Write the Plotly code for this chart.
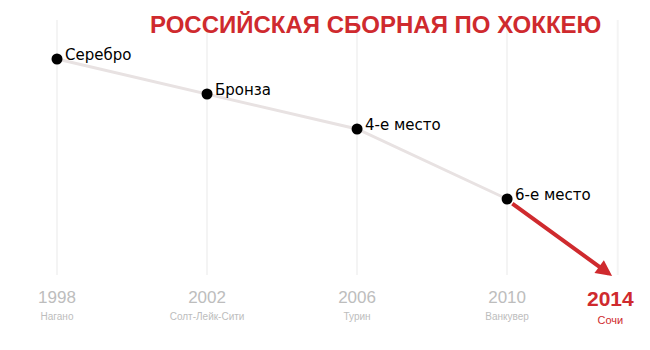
import plotly.graph_objects as go

years = [1998, 2002, 2006, 2010]
cities = ["Нагано", "Солт-Лейк-Сити", "Турин", "Ванкувер"]
places = [2, 3, 4, 6]
results = ["Серебро", "Бронза", "4-е место", "6-е место"]
next_year = "2014"
next_city = "Сочи"
title = "РОССИЙСКАЯ СБОРНАЯ ПО ХОККЕЮ"

NARROW = "Liberation Sans, Arial"
RED = "#cf2a2e"

fig = go.Figure()
fig.add_trace(go.Scatter(
    x=years, y=places, mode="lines+markers",
    line=dict(color="#e8e2e2", width=3),
    marker=dict(color="black", size=11),
    hoverinfo="skip", showlegend=False,
))

for yr, pl, txt in zip(years, places, results):
    fig.add_annotation(x=yr, y=pl, text=txt, showarrow=False,
                       xanchor="left", yanchor="middle", xshift=6, yshift=4,
                       font=dict(family="DejaVu Sans", size=15, color="black"))

ticktext = [f"<span style='font-size:17px'>{y}</span><br><span style='font-size:10px'>{c}</span>"
            for y, c in zip(years, cities)]

# arrow from last point to the 2014 column
fig.add_annotation(x=2012.8, y=8.2, ax=years[-1] + 0.1, ay=places[-1] + 0.1,
                   xref="x", yref="y", axref="x", ayref="y",
                   showarrow=True, arrowhead=2, arrowsize=0.8, arrowwidth=4,
                   arrowcolor=RED, text="")

fig.add_annotation(x=2012.75, y=8.17, yref="y", xref="x", showarrow=False,
                   yanchor="top", yshift=-10,
                   text=f"<b><span style='font-size:21px'>{next_year}</span></b><br><span style='font-size:11px'>{next_city}</span>",
                   font=dict(family=NARROW, color=RED, size=14))

fig.add_annotation(x=0.578, y=1, xref="paper", yref="paper", yanchor="bottom",
                   showarrow=False, yshift=-20,
                   text=f"<b>{title}</b>",
                   font=dict(family=NARROW, size=24, color=RED))

# gridline at 2014 column
fig.add_shape(type="line", x0=2012.95, x1=2012.95, y0=0.886, y1=8.171,
              line=dict(color="#f4f4f4", width=2), layer="below")

fig.update_xaxes(range=[1996.48, 2013.81], tickvals=years, ticktext=ticktext,
                 showgrid=True, gridcolor="#f4f4f4", gridwidth=2, zeroline=False,
                 showline=False, ticks="", ticklabelstandoff=14,
                 tickfont=dict(family=NARROW, color="#bdbdbd", size=13))
fig.update_yaxes(range=[8.171, 0.886], visible=False, showgrid=False, zeroline=False)

fig.update_layout(width=650, height=350, margin=dict(l=0, r=0, t=20, b=75),
                  plot_bgcolor="white", paper_bgcolor="white")

fig.write_html("out.html")
